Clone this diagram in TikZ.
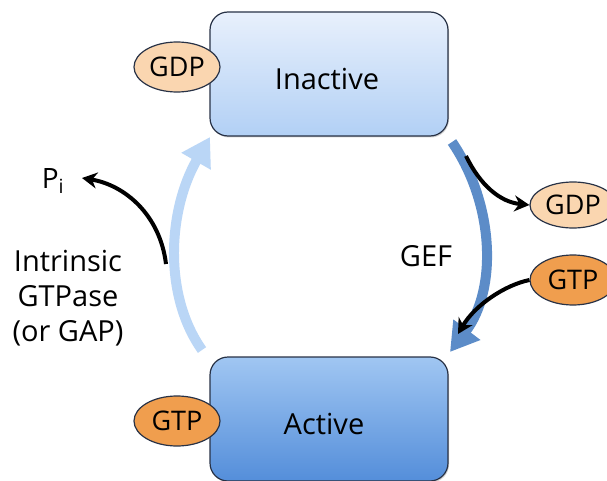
\documentclass[tikz,border=0pt]{standalone}
\usepackage{fontspec}
\setmainfont{Open Sans}
\usetikzlibrary{arrows.meta,shapes.geometric,shadows}
\definecolor{boxedge}{RGB}{40,50,70}
\definecolor{inacttop}{RGB}{232,240,252}
\definecolor{inactbot}{RGB}{178,208,245}
\definecolor{acttop}{RGB}{160,198,242}
\definecolor{actbot}{RGB}{84,142,218}
\definecolor{gdpfill}{RGB}{250,214,176}
\definecolor{gtpfill}{RGB}{240,158,78}
\definecolor{gefblue}{RGB}{92,140,200}
\definecolor{gapblue}{RGB}{186,214,246}
\begin{document}
\begin{tikzpicture}[x=1pt,y=-1pt,
  statebox/.style={draw=boxedge,line width=1.2pt,rounded corners=18pt,minimum width=238pt,minimum height=124pt,inner sep=0pt,drop shadow={shadow xshift=1pt,shadow yshift=-1.5pt,opacity=0.35}},
  nuc/.style={ellipse,draw=boxedge,line width=1.2pt,minimum width=86pt,minimum height=50pt,inner sep=0pt,font=\fontsize{27}{30}\selectfont},
  lbl/.style={font=\fontsize{29}{35}\selectfont,align=center},
  blk/.style={line width=4pt,-{Stealth[length=15pt,width=16pt]}},
  bigarrow/.style={line width=10pt,-{Triangle[length=28pt,width=32pt]}}]
\useasboundingbox (0,0) rectangle (607,481);
\fill[white] (0,0) rectangle (607,481);
% states
\node[statebox,top color=inacttop,bottom color=inactbot] (inactive) at (329,74) {};
\node[font=\fontsize{29}{30}\selectfont] (inacttxt) at (327,79) {Inactive};
\node[statebox,top color=acttop,bottom color=actbot] (active) at (329,419) {};
\node[font=\fontsize{29}{30}\selectfont] (acttxt) at (324,424) {Active};
% nucleotides on boxes
\node[nuc,fill=gdpfill] (gdpA) at (177,67) {GDP};
\node[nuc,fill=gtpfill] (gtpA) at (177,421) {GTP};
% free nucleotides
\node[nuc,fill=gdpfill,minimum height=46pt] (gdpB) at (573,205) {GDP};
\node[nuc,fill=gtpfill] (gtpB) at (573,280) {GTP};
% coordinates
\coordinate (gefs) at (452,142);
\coordinate (gefe) at (450,352);
\coordinate (gaps) at (202,350);
\coordinate (gape) at (210,137);
\coordinate (pis) at (166,264);
\coordinate (pie) at (82,178);
\coordinate (gdps) at (466,156);
\coordinate (gtpe) at (458,334);
% big arrows
\draw[bigarrow,gefblue] (gefs) .. controls (495,205) and (497,290) .. (gefe);
\draw[bigarrow,gapblue] (gaps) .. controls (163,295) and (168,210) .. (gape);
% black arrows
\draw[blk] (gdps) .. controls (480,185) and (500,202) .. (gdpB.west);
\draw[blk] (gtpB.west) .. controls (505,285) and (475,305) .. (gtpe);
\draw[blk] (pis) .. controls (160,215) and (125,185) .. (pie);
% labels
\node[font=\fontsize{28}{30}\selectfont] (pi) at (53,181) {P\textsubscript{i}};
\node[lbl] (gaplbl) at (68,298) {Intrinsic\\GTPase\\(or GAP)};
\node[lbl] (geflbl) at (426,256) {GEF};
\end{tikzpicture}
\end{document}
